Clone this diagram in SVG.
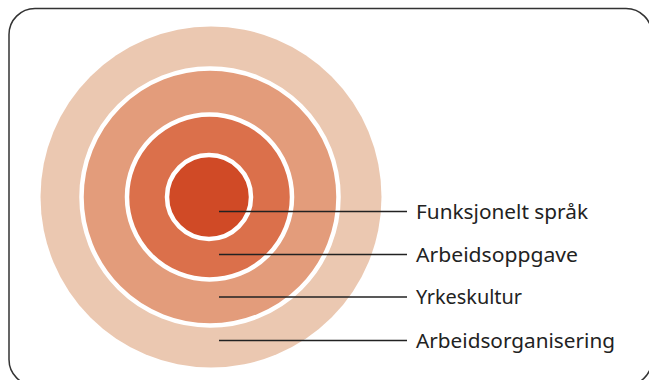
<svg xmlns="http://www.w3.org/2000/svg" width="649" height="380" viewBox="0 0 649 380">
<style>
.ring{stroke:#fff;stroke-width:4.5}
.lbl{font-family:"Noto Sans","Open Sans",sans-serif;font-size:20px;fill:#222}
.ld{stroke:#222;stroke-width:1.3;fill:none}
</style>
<rect x="9" y="8.5" width="643" height="377" rx="26" ry="26" fill="#fff" stroke="#333" stroke-width="1.5"/>
<g id="node-arbeidsorganisering">
<circle cx="211" cy="197" r="170.5" fill="#ebc8b1"/>
</g>
<g id="node-yrkeskultur">
<circle class="ring" cx="210" cy="197" r="128.5" fill="#e39c7b"/>
</g>
<g id="node-arbeidsoppgave">
<circle class="ring" cx="209.5" cy="197" r="82.5" fill="#db704b"/>
</g>
<g id="node-funksjonelt">
<circle class="ring" cx="209" cy="197" r="42" fill="#d04a26"/>
</g>
<g id="connectors">
<line class="ld" x1="219" y1="211.5" x2="407" y2="211.5"/>
<line class="ld" x1="219" y1="254.5" x2="407" y2="254.5"/>
<line class="ld" x1="219" y1="297" x2="407" y2="297"/>
<line class="ld" x1="219" y1="340.5" x2="407" y2="340.5"/>
</g>
<g id="labels">
<text class="lbl" x="416" y="219" textLength="172" lengthAdjust="spacingAndGlyphs">Funksjonelt språk</text>
<text class="lbl" x="416" y="261.5" textLength="162" lengthAdjust="spacingAndGlyphs">Arbeidsoppgave</text>
<text class="lbl" x="416" y="304" textLength="106" lengthAdjust="spacingAndGlyphs">Yrkeskultur</text>
<text class="lbl" x="416" y="347.5" textLength="199" lengthAdjust="spacingAndGlyphs">Arbeidsorganisering</text>
</g>
</svg>
